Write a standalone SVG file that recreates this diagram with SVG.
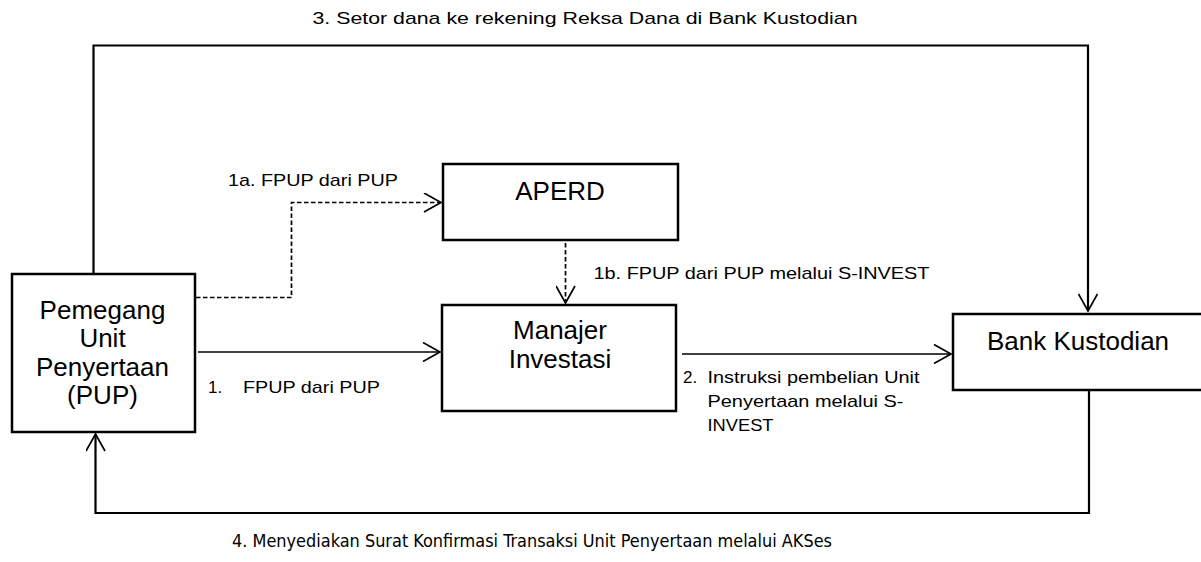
<svg xmlns="http://www.w3.org/2000/svg" width="1201" height="562" viewBox="0 0 1201 562">
<defs>
<style>
.box{fill:#fff;stroke:#000;stroke-width:2.5}
.lbl{font-family:"Liberation Sans",Arial,sans-serif;font-size:26px;fill:#000;text-anchor:middle}
.note{font-family:"Liberation Sans",Arial,sans-serif;font-size:17px;fill:#000}
.narrow{font-family:"Liberation Sans Narrow","DejaVu Sans Condensed","Liberation Sans",sans-serif;font-size:18px;fill:#000}
.ln{fill:none;stroke:#000;stroke-width:1.7}
.thick{fill:none;stroke:#000;stroke-width:2.2}
.dash{fill:none;stroke:#000;stroke-width:1.7;stroke-dasharray:4.5 2.5}
</style>
<marker id="arr" markerUnits="userSpaceOnUse" viewBox="0 0 20 20" refX="18" refY="10" markerWidth="20" markerHeight="20" orient="auto">
<path d="M1,0.5 L18,10 L1,19.5" fill="none" stroke="#000" stroke-width="1.7"/>
</marker>
</defs>
<rect width="1201" height="562" fill="#fff"/>
<g id="connectors">
<polyline class="thick" points="93.5,274 93.5,45.5 1088,45.5 1088,311" marker-end="url(#arr)"/>
<polyline class="dash" points="196,297.5 291.5,297.5 291.5,202.5 441,202.5" marker-end="url(#arr)"/>
<line class="dash" x1="565.5" y1="243" x2="565.5" y2="303" marker-end="url(#arr)"/>
<line class="ln" x1="198" y1="352" x2="440" y2="352" marker-end="url(#arr)"/>
<line class="ln" x1="682" y1="354" x2="951" y2="354" marker-end="url(#arr)"/>
<polyline class="thick" points="1089,390 1089,513 95.5,513 95.5,434" marker-end="url(#arr)"/>
</g>
<g id="labels">
<text class="note" x="312.5" y="24" font-size="19" textLength="545" lengthAdjust="spacingAndGlyphs">3. Setor dana ke rekening Reksa Dana di Bank Kustodian</text>
<text class="note" x="228" y="186" textLength="170" lengthAdjust="spacingAndGlyphs">1a. FPUP dari PUP</text>
<text class="note" x="593.5" y="278.5" textLength="336" lengthAdjust="spacingAndGlyphs">1b. FPUP dari PUP melalui S-INVEST</text>
<text class="note" x="208" y="392.5">1.</text>
<text class="note" x="243" y="392.5" textLength="137" lengthAdjust="spacingAndGlyphs">FPUP dari PUP</text>
<text class="note" x="683" y="383">2.</text>
<text class="note" x="707.5" y="383" textLength="212" lengthAdjust="spacingAndGlyphs">Instruksi pembelian Unit</text>
<text class="note" x="707.5" y="407" textLength="196" lengthAdjust="spacingAndGlyphs">Penyertaan melalui S-</text>
<text class="note" x="707.5" y="431" textLength="66" lengthAdjust="spacingAndGlyphs">INVEST</text>
<text class="narrow" x="232" y="547" textLength="600" lengthAdjust="spacingAndGlyphs">4. Menyediakan Surat Konfirmasi Transaksi Unit Penyertaan melalui  AKSes</text>
</g>
<g id="pup">
<rect class="box" x="12" y="274" width="183" height="158"/>
<text class="lbl" x="102.5" y="318.5">Pemegang</text>
<text class="lbl" x="102.5" y="347">Unit</text>
<text class="lbl" x="102.5" y="375.5">Penyertaan</text>
<text class="lbl" x="102.5" y="404">(PUP)</text>
</g>
<g id="aperd">
<rect class="box" x="443" y="164" width="235" height="76"/>
<text class="lbl" x="560" y="200">APERD</text>
</g>
<g id="mi">
<rect class="box" x="442" y="305" width="234" height="106"/>
<text class="lbl" x="560" y="338.5">Manajer</text>
<text class="lbl" x="560" y="368">Investasi</text>
</g>
<g id="bank">
<rect class="box" x="953" y="314" width="260" height="76"/>
<text class="lbl" x="1078" y="349.5">Bank Kustodian</text>
</g>
</svg>
